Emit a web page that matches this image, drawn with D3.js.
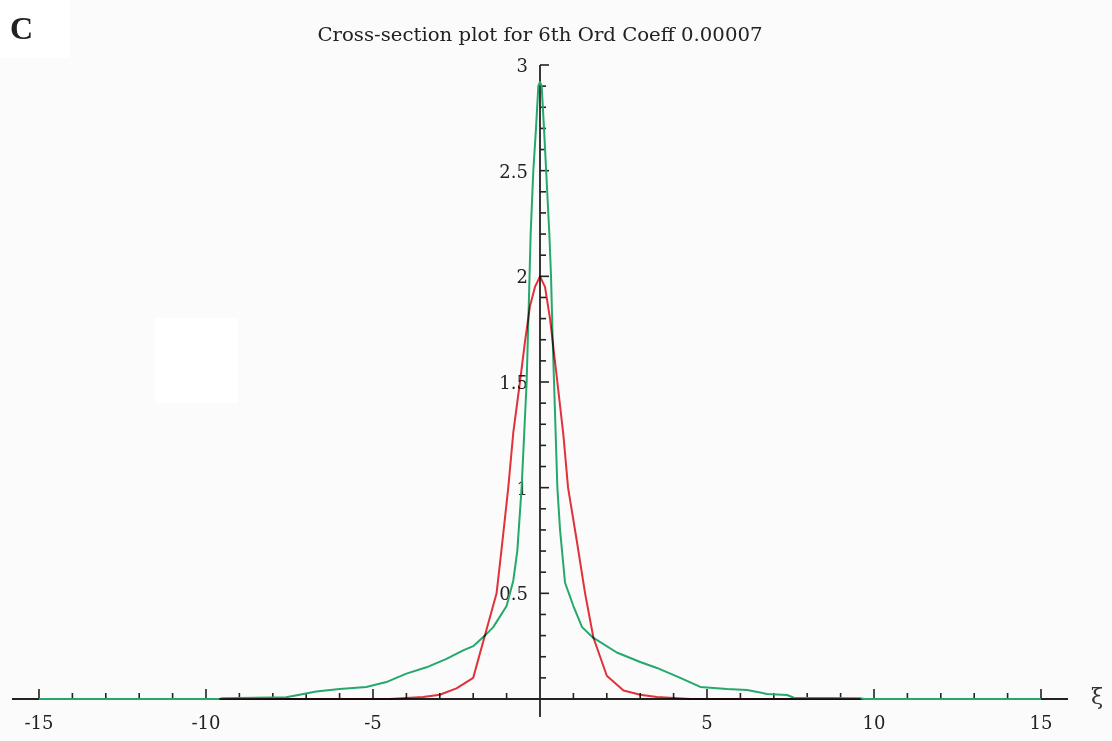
<!DOCTYPE html>
<html><head><meta charset="utf-8">
<script src="https://cdn.jsdelivr.net/npm/d3@7"></script>
<style>html,body{margin:0;padding:0;background:#fbfbfb;}svg{display:block;}</style>
</head><body>
<script>
const title = "Cross-section plot for 6th Ord Coeff  0.00007";
const xTickLabels = [-15, -10, -5, 5, 10, 15];
const yTickLabels = [0.5, 1, 1.5, 2, 2.5, 3];
// red curve (xi, value)
const redX = [-9.6, -4.5, -4, -3.5, -3, -2.5, -2, -1.65, -1.3, -1.15, -0.95, -0.8, -0.6, -0.45, -0.3, -0.15, 0, 0.15, 0.3, 0.52, 0.7, 0.84, 1.1, 1.35, 1.6, 2.0, 2.5, 3, 3.5, 4, 4.5, 9.6];
const redY = [0, 0, 0.005, 0.01, 0.02, 0.05, 0.10, 0.30, 0.50, 0.71, 1.0, 1.26, 1.5, 1.69, 1.86, 1.95, 2.0, 1.95, 1.8, 1.5, 1.25, 1.0, 0.75, 0.5, 0.29, 0.11, 0.04, 0.02, 0.01, 0.005, 0, 0];
// green curve (xi, value)
const greenX = [-15, -9.6, -9.5, -7.6, -7.2, -6.7, -6.0, -5.2, -4.6, -4.0, -3.4, -2.8, -2.3, -2.0, -1.65, -1.4, -1.0, -0.8, -0.68, -0.55, -0.4, -0.33, -0.28, -0.2, -0.12, -0.05, 0, 0.05, 0.12, 0.2, 0.28, 0.33, 0.38, 0.42, 0.52, 0.6, 0.75, 1.0, 1.26, 1.59, 2.3, 3.0, 3.5, 4.2, 4.8, 5.6, 6.2, 6.8, 7.4, 7.6, 9.6, 9.7, 15];
const greenY = [0, 0, 0.004, 0.008, 0.02, 0.035, 0.047, 0.057, 0.08, 0.12, 0.15, 0.19, 0.23, 0.25, 0.30, 0.34, 0.44, 0.56, 0.7, 1.0, 1.5, 1.9, 2.2, 2.5, 2.7, 2.9, 2.92, 2.9, 2.7, 2.45, 2.2, 2.0, 1.7, 1.5, 1.0, 0.8, 0.55, 0.44, 0.34, 0.29, 0.22, 0.175, 0.147, 0.10, 0.057, 0.047, 0.043, 0.024, 0.019, 0.006, 0.004, 0, 0];

const W = 1112, H = 741;
const svg = d3.select("body").append("svg").attr("width", W).attr("height", H);
svg.append("rect").attr("width", W).attr("height", H).attr("fill", "#fbfbfb");
svg.append("rect").attr("x", 155).attr("y", 318).attr("width", 83).attr("height", 85).attr("fill", "#ffffff");
svg.append("rect").attr("x", 0).attr("y", 0).attr("width", 70).attr("height", 58).attr("fill", "#ffffff");

const x = d3.scaleLinear().domain([-15, 15]).range([39, 1041]);
const y = d3.scaleLinear().domain([0, 3]).range([699, 65]);
const font = "'DejaVu Serif', 'Liberation Serif', serif";
const axisColor = "#222";

// panel letter
svg.append("text").attr("x", 10).attr("y", 39).attr("font-family", "'Liberation Serif', serif")
  .attr("font-weight", "bold").attr("font-size", 32).attr("fill", "#222").text("C");

// title
svg.append("text").attr("x", 540).attr("y", 41).attr("text-anchor", "middle")
  .attr("font-family", font).attr("font-size", 18).attr("fill", "#222")
  .attr("textLength", 445).attr("lengthAdjust", "spacingAndGlyphs").text(title);

// x axis line
svg.append("line").attr("x1", 12).attr("x2", 1068).attr("y1", y(0)).attr("y2", y(0))
  .attr("stroke", axisColor).attr("stroke-width", 1.8);
// x ticks
const xt = d3.range(-15, 16, 1).filter(d => d !== 0);
svg.selectAll(".xt").data(xt).enter().append("line")
  .attr("x1", d => x(d)).attr("x2", d => x(d))
  .attr("y1", y(0)).attr("y2", d => y(0) - (d % 5 === 0 ? 10 : 6))
  .attr("stroke", axisColor).attr("stroke-width", 1.6);
svg.selectAll(".xl").data(xTickLabels).enter().append("text")
  .attr("x", d => x(d)).attr("y", 729).attr("text-anchor", "middle")
  .attr("font-family", font).attr("font-size", 18).attr("fill", "#222")
  .text(d => d < 0 ? "-" + Math.abs(d) : d);

// y axis line
svg.append("line").attr("x1", x(0)).attr("x2", x(0)).attr("y1", y(3)).attr("y2", 717)
  .attr("stroke", axisColor).attr("stroke-width", 1.8);
const yt = d3.range(1, 31).map(d => d / 10);
svg.selectAll(".yt").data(yt).enter().append("line")
  .attr("x1", x(0)).attr("x2", d => x(0) + (Math.round(d * 10) % 5 === 0 ? 9 : 6))
  .attr("y1", d => y(d)).attr("y2", d => y(d))
  .attr("stroke", axisColor).attr("stroke-width", 1.6);
svg.selectAll(".yl").data(yTickLabels).enter().append("text")
  .attr("x", 528).attr("y", d => y(d) + 7).attr("text-anchor", "end")
  .attr("font-family", font).attr("font-size", 18).attr("fill", "#222")
  .text(d => d);

// xi label
svg.append("text").attr("x", 1097).attr("y", 704).attr("text-anchor", "middle")
  .attr("font-family", font).attr("font-size", 22).attr("fill", "#333").text("ξ");

const line = d3.line().x(d => x(d[0])).y(d => y(d[1]));
const greenPts = greenX.map((v, i) => [v, greenY[i]]);
const redPts = redX.map((v, i) => [v, redY[i]]);
svg.append("path").datum(greenPts).attr("d", line).attr("fill", "none")
  .attr("stroke", "#25a86a").attr("stroke-width", 2).attr("stroke-linejoin", "round");
svg.append("path").datum(redPts).attr("d", line).attr("fill", "none")
  .attr("stroke", "#e3323b").attr("stroke-width", 2).attr("stroke-linejoin", "round")
  .style("mix-blend-mode", "multiply");
</script>
</body></html>
